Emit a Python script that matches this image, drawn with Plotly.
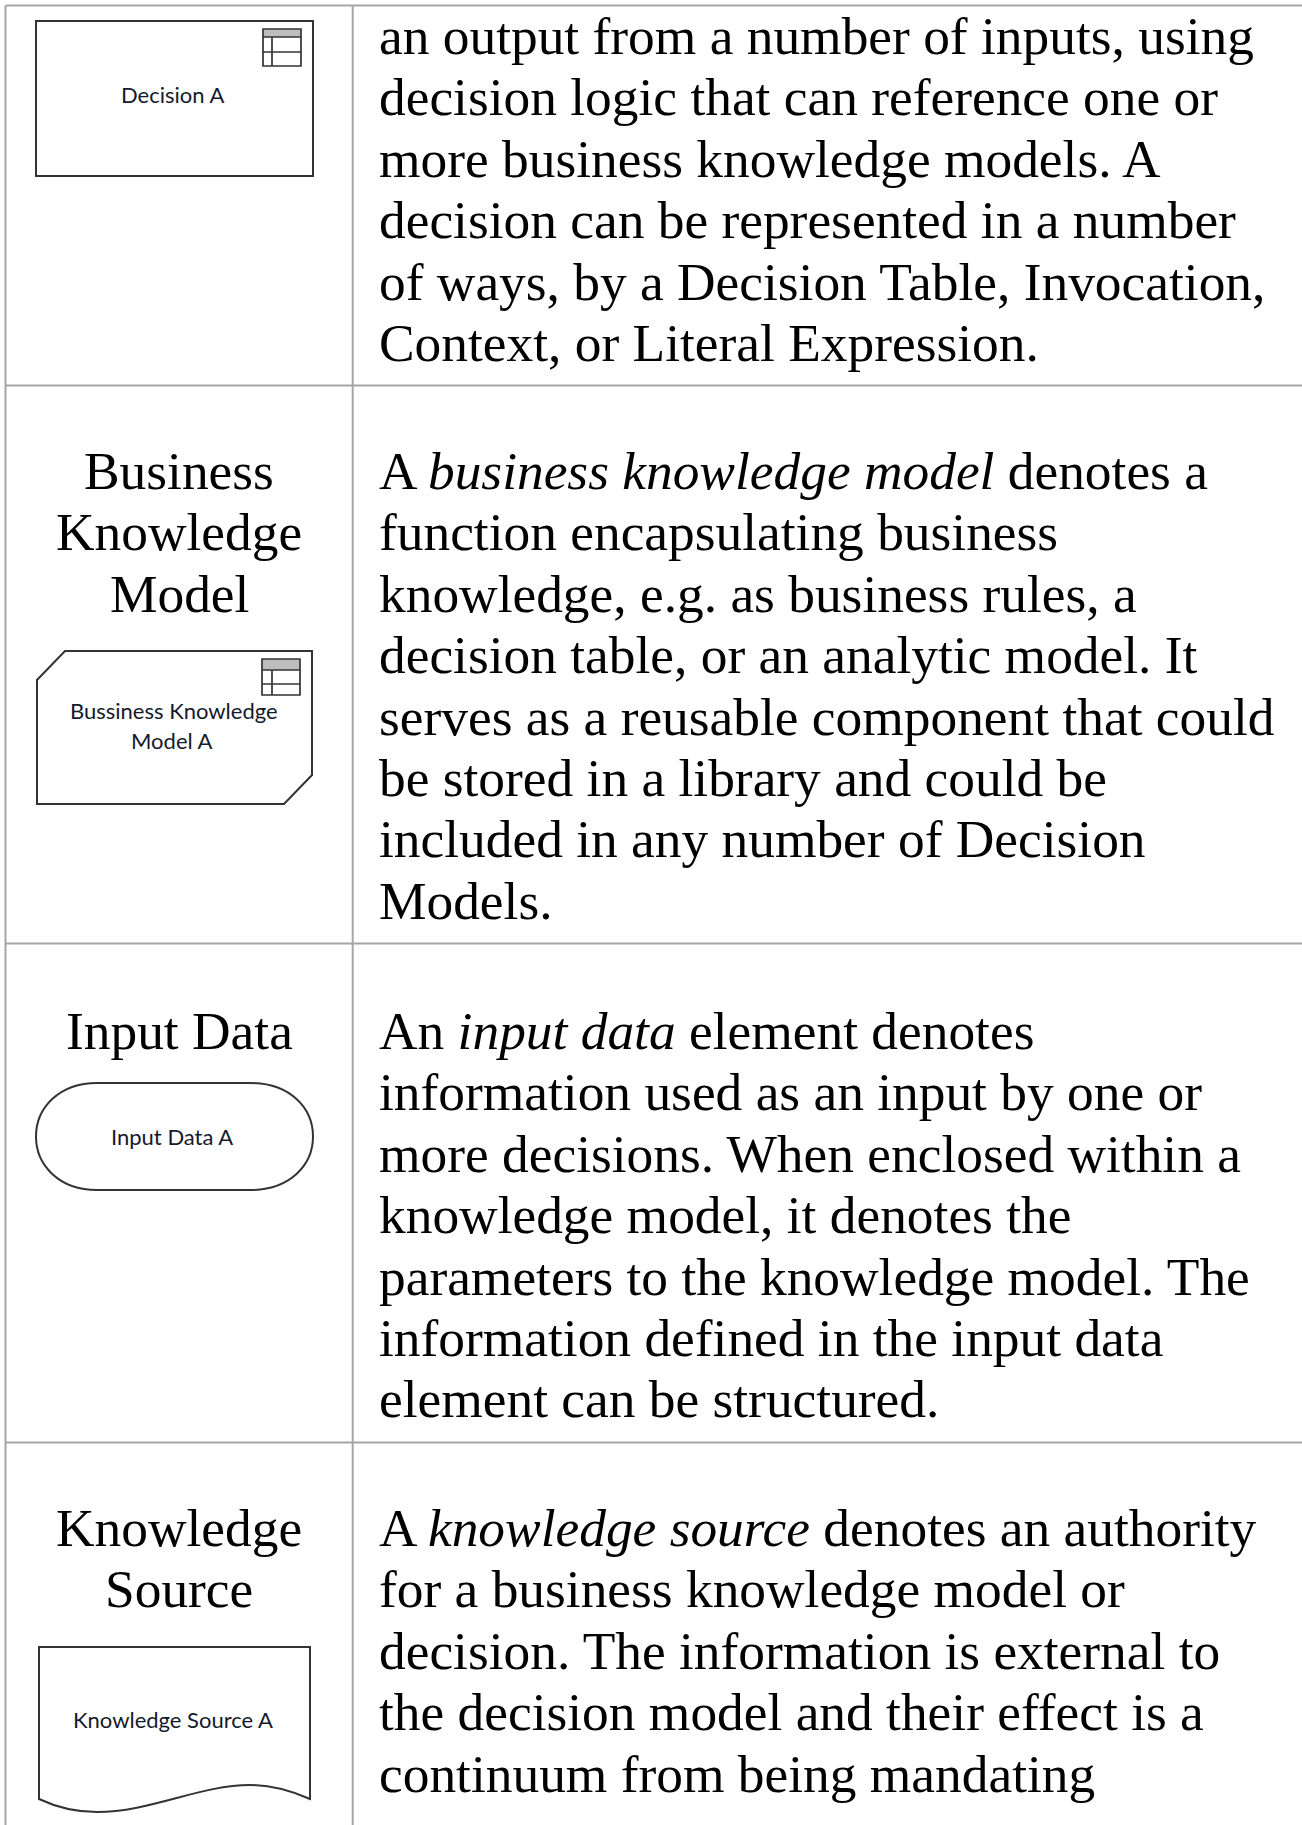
import plotly.graph_objects as go

# ---- content ----
row1_body = ["an output from a number of inputs, using",
             "decision logic that can reference one or",
             "more business knowledge models. A",
             "decision can be represented in a number",
             "of ways, by a Decision Table, Invocation,",
             "Context, or Literal Expression."]
row2_body = ["A <i>business knowledge model</i> denotes a",
             "function encapsulating business",
             "knowledge, e.g. as business rules, a",
             "decision table, or an analytic model. It",
             "serves as a reusable component that could",
             "be stored in a library and could be",
             "included in any number of Decision",
             "Models."]
row3_body = ["An <i>input data</i> element denotes",
             "information used as an input by one or",
             "more decisions. When enclosed within a",
             "knowledge model, it denotes the",
             "parameters to the knowledge model. The",
             "information defined in the input data",
             "element can be structured."]
row4_body = ["A <i>knowledge source</i> denotes an authority",
             "for a business knowledge model or",
             "decision. The information is external to",
             "the decision model and their effect is a",
             "continuum from being mandating"]
row2_head = ["Business", "Knowledge", "Model"]
row3_head = ["Input Data"]
row4_head = ["Knowledge", "Source"]
diagram_labels = [("Decision A", 172.5, 103), ("Bussiness Knowledge", 173.5, 719), ("Model A", 172, 749),
                  ("Input Data A", 172, 1145), ("Knowledge Source A", 173, 1728)]

W, H = 1302, 1825
SERIF = "Liberation Serif"
FS = 53.4
LEAD = 61.4
SERIF_C = 0.3375
GRID = "#a6a6a6"
INK = "#333333"

shapes, anns = [], []

def text(t, x, base, anchor, size=FS, font=SERIF, color="#000000", c=SERIF_C):
    anns.append(dict(text=t, x=x, y=base - c * size, xref="x", yref="y", xanchor=anchor, yanchor="middle",
                     showarrow=False, align=anchor, borderpad=0,
                     font=dict(family=font, size=size, color=color)))

def line(x0, y0, x1, y1, color=GRID, w=2):
    shapes.append(dict(type="line", x0=x0, y0=y0, x1=x1, y1=y1, xref="x", yref="y", line=dict(color=color, width=w)))

def path(p, w=2, fill="rgba(0,0,0,0)"):
    shapes.append(dict(type="path", path=p, xref="x", yref="y", fillcolor=fill, line=dict(color=INK, width=w)))

def icon(x0, x1, y0, yh, ym, y1, xv):
    shapes.append(dict(type="rect", x0=x0, x1=x1, y0=y0, y1=yh, xref="x", yref="y",
                       fillcolor="#bdbdbd", line=dict(width=0)))
    path(f"M{x0},{y0} L{x1},{y0} L{x1},{y1} L{x0},{y1} Z", 1.7)
    line(x0, yh, x1, yh, INK, 1.7)
    line(x0, ym, x1, ym, INK, 1.7)
    line(xv, yh, xv, y1, INK, 1.7)

# table frame
line(5.5, 5.5, W, 5.5)
line(5.5, 5.5, 5.5, H)
line(352.7, 5.5, 352.7, H)
for y in (385.5, 943.5, 1442.5):
    line(5.5, y, W, y)

# right column
BODY_X = 378
for lines, first in ((row1_body, 54), (row2_body, 489), (row3_body, 1049), (row4_body, 1546)):
    for i, t in enumerate(lines):
        text(t, BODY_X, first + i * LEAD, "left")

# left column
HEAD_X = 179
for lines, first in ((row2_head, 489), (row3_head, 1049), (row4_head, 1546)):
    for i, t in enumerate(lines):
        text(t, HEAD_X, first + i * LEAD, "center")

# diagrams
path("M36,21 L313,21 L313,176 L36,176 Z")
icon(263, 301, 29, 37, 52, 66, 272)

path("M65,651 L312,651 L312,775 L284,804 L37,804 L37,680 Z")
icon(262, 300, 659, 670, 684, 695, 272)

path("M97,1083 L250,1083 C290,1083 313,1108 313,1136.5 C313,1165 290,1190 250,1190 "
     "L97,1190 C59,1190 36,1165 36,1136.5 C36,1108 59,1083 97,1083 Z")

path("M39,1647 L310,1647 L310,1799 C285,1788 265,1785 250,1785 C200,1785 150,1812 97,1812 C75,1812 58,1808 39,1799 Z")

for t, x, base in diagram_labels:
    text(t, x, base, "center", size=22, font="Lato", color="#141a2b", c=0.387)

fig = go.Figure()
fig.update_layout(width=W, height=H, margin=dict(l=0, r=0, t=0, b=0), paper_bgcolor="white", plot_bgcolor="white",
                  xaxis=dict(range=[0, W], visible=False, fixedrange=True),
                  yaxis=dict(range=[H, 0], visible=False, fixedrange=True),
                  shapes=shapes, annotations=anns, showlegend=False)
fig.write_html("out.html", config=dict(displayModeBar=False),
               post_script="document.body.style.margin='0';document.body.style.overflow='hidden';")
